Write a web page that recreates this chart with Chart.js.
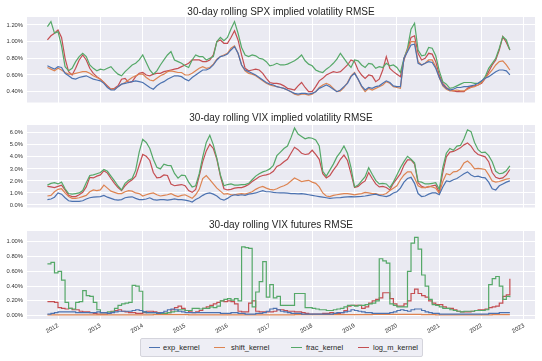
<!DOCTYPE html>
<html><head><meta charset="utf-8">
<script src="https://cdn.jsdelivr.net/npm/chart.js@4.4.1/dist/chart.umd.min.js"></script>
<style>
html,body{margin:0;padding:0;background:#fff;}
#wrap{position:relative;width:542px;height:361px;overflow:hidden;font-family:"Liberation Sans",Arial,sans-serif;}
.pc{position:absolute;left:0;width:542px;}
#legend{position:absolute;left:140px;top:338px;width:283px;height:19px;box-sizing:border-box;border:1px solid #d4d4dc;border-radius:2px;background:#eeeef5;}
.sw{position:absolute;top:8px;height:1px;width:11px;}
.lt{position:absolute;top:0;height:17px;line-height:17px;font-size:7.5px;color:#262626;white-space:nowrap;}
</style></head>
<body><div id="wrap">
<div class="pc" style="top:0;height:110px"><canvas id="c1"></canvas></div>
<div class="pc" style="top:110px;height:105px"><canvas id="c2"></canvas></div>
<div class="pc" style="top:215px;height:146px"><canvas id="c3"></canvas></div>
<div id="legend"></div>
</div>
<script>
// ---- data (monthly samples, Oct 2011 .. Sep 2022) ----
const startYear = 2011, startMonth = 10, nMonths = 132;
const years = [2012,2013,2014,2015,2016,2017,2018,2019,2020,2021,2022,2023];
const seriesNames = ['exp_kernel','shift_kernel','frac_kernel','log_m_kernel'];
const titles = ['30-day rolling SPX implied volatility RMSE','30-day rolling VIX implied volatility RMSE','30-day rolling VIX futures RMSE'];
const spxTicks = [0.4,0.6,0.8,1.0,1.2];
const vixTicks = [0,1,2,3,4,5,6];
const futTicks = [0,0.2,0.4,0.6,0.8,1.0];

// panel 1: SPX implied vol RMSE (%)
const spxExp = [0.71,0.69,0.67,0.70,0.69,0.62,0.59,0.56,0.55,0.57,
0.58,0.59,0.57,0.55,0.54,0.53,0.50,0.45,0.42,0.42,
0.46,0.49,0.50,0.51,0.52,0.53,0.52,0.51,0.48,0.45,
0.43,0.47,0.50,0.52,0.55,0.57,0.59,0.59,0.58,0.55,
0.53,0.57,0.60,0.63,0.66,0.66,0.68,0.72,0.78,0.82,
0.83,0.85,0.90,0.94,0.86,0.72,0.66,0.64,0.62,0.60,
0.57,0.54,0.51,0.49,0.48,0.46,0.45,0.44,0.42,0.40,
0.38,0.37,0.38,0.38,0.37,0.38,0.40,0.44,0.46,0.48,
0.46,0.43,0.40,0.42,0.46,0.50,0.58,0.62,0.55,0.47,
0.42,0.45,0.44,0.46,0.47,0.50,0.53,0.51,0.47,0.46,
0.46,0.80,0.88,0.96,0.97,0.74,0.72,0.74,0.76,0.75,
0.68,0.57,0.48,0.44,0.42,0.43,0.45,0.45,0.46,0.46,
0.47,0.48,0.50,0.53,0.56,0.58,0.61,0.64,0.66,0.66,
0.65,0.60];
const spxShift = [0.69,0.67,0.65,0.68,0.66,0.63,0.61,0.61,0.62,0.63,
0.64,0.64,0.62,0.59,0.57,0.55,0.51,0.46,0.43,0.43,
0.46,0.49,0.51,0.54,0.57,0.59,0.61,0.61,0.57,0.54,
0.53,0.56,0.59,0.61,0.64,0.65,0.64,0.63,0.63,0.60,
0.60,0.62,0.65,0.68,0.70,0.68,0.69,0.73,0.79,0.82,
0.84,0.86,0.92,0.95,0.86,0.72,0.65,0.62,0.61,0.59,
0.56,0.53,0.50,0.48,0.47,0.46,0.45,0.44,0.42,0.40,
0.37,0.36,0.37,0.37,0.36,0.37,0.40,0.45,0.48,0.50,
0.48,0.44,0.40,0.41,0.45,0.51,0.59,0.63,0.55,0.46,
0.40,0.44,0.42,0.44,0.46,0.48,0.52,0.50,0.46,0.45,
0.44,0.80,0.90,1.00,1.00,0.76,0.72,0.74,0.78,0.78,
0.70,0.57,0.47,0.43,0.41,0.41,0.42,0.41,0.41,0.43,
0.45,0.46,0.48,0.51,0.56,0.61,0.66,0.72,0.76,0.77,
0.72,0.66];
const spxFrac = [1.18,1.24,1.10,1.12,0.95,0.70,0.65,0.68,0.76,0.82,
0.86,0.82,0.72,0.68,0.65,0.67,0.66,0.68,0.70,0.65,
0.61,0.59,0.64,0.68,0.72,0.74,0.78,0.84,0.75,0.66,
0.61,0.65,0.72,0.78,0.84,0.88,0.78,0.76,0.74,0.71,
0.69,0.78,0.84,0.82,0.82,0.78,0.80,0.82,1.00,1.05,
1.01,1.05,1.15,1.24,1.10,0.93,0.84,0.82,0.84,0.83,
0.80,0.79,0.76,0.71,0.72,0.74,0.72,0.72,0.73,0.75,
0.77,0.80,0.84,0.77,0.73,0.71,0.66,0.64,0.63,0.67,
0.70,0.74,0.79,0.86,0.80,0.74,0.69,0.78,0.77,0.72,
0.69,0.74,0.73,0.68,0.70,0.69,0.74,0.71,0.72,0.69,
0.63,0.80,0.92,1.15,1.22,0.90,0.83,0.84,0.93,0.92,
0.83,0.65,0.52,0.49,0.44,0.45,0.47,0.49,0.51,0.51,
0.51,0.50,0.50,0.52,0.58,0.68,0.74,0.80,0.92,1.06,
1.02,0.90];
const spxLogm = [1.02,1.07,1.10,1.14,1.05,0.80,0.64,0.60,0.68,0.78,
0.84,0.78,0.68,0.62,0.58,0.55,0.51,0.47,0.43,0.44,
0.47,0.55,0.56,0.51,0.52,0.58,0.62,0.63,0.60,0.59,
0.61,0.62,0.62,0.64,0.65,0.66,0.67,0.68,0.70,0.72,
0.74,0.78,0.78,0.78,0.76,0.76,0.78,0.84,1.00,1.02,
0.98,0.98,1.05,1.13,1.02,0.84,0.68,0.65,0.66,0.67,
0.66,0.62,0.56,0.51,0.50,0.50,0.49,0.47,0.44,0.43,
0.42,0.47,0.51,0.45,0.40,0.40,0.46,0.53,0.56,0.60,
0.62,0.64,0.63,0.64,0.68,0.72,0.78,0.76,0.66,0.60,
0.56,0.60,0.59,0.52,0.55,0.66,0.82,0.68,0.64,0.61,
0.58,0.78,0.90,1.05,1.07,0.86,0.78,0.80,0.86,0.85,
0.76,0.60,0.50,0.45,0.42,0.41,0.40,0.40,0.40,0.44,
0.46,0.47,0.48,0.50,0.56,0.64,0.72,0.78,0.90,1.06,
0.99,0.90];

// panel 2: VIX implied vol RMSE (%)
const vixExp = [0.45,0.50,0.65,1.00,0.90,0.60,0.35,0.30,0.30,0.30,
0.35,0.50,0.60,0.65,0.68,0.70,0.80,0.65,0.55,0.45,
0.40,0.45,0.60,0.65,0.68,0.55,0.45,0.45,0.50,0.60,
0.45,0.40,0.45,0.45,0.40,0.45,0.50,0.45,0.45,0.40,
0.35,0.25,0.45,0.60,0.80,0.95,1.00,0.90,0.75,0.50,
0.40,0.55,0.75,0.85,0.80,0.85,0.80,0.90,0.95,1.00,
1.10,1.20,1.10,1.10,1.05,1.02,1.00,1.00,0.98,0.95,
0.95,0.92,0.95,0.90,0.85,0.80,0.75,0.70,0.65,0.60,
0.55,0.58,0.60,0.62,0.65,0.68,0.70,0.68,0.70,0.72,
0.75,0.80,0.85,0.90,0.80,0.75,0.70,0.80,1.00,1.10,
1.40,1.90,2.20,2.30,1.80,0.95,0.70,0.75,0.90,1.00,
1.00,0.85,1.50,2.00,1.95,2.10,2.20,2.40,2.60,2.75,
2.50,2.35,2.40,2.30,2.25,1.90,1.35,1.25,1.60,1.75,
1.90,2.00];
const vixShift = [0.75,0.80,1.10,1.30,1.35,1.00,0.70,0.55,0.55,0.60,
0.70,0.80,1.10,1.25,1.20,1.25,1.65,1.40,1.15,1.05,
0.95,0.95,1.10,1.20,1.15,1.00,0.95,0.75,0.85,0.95,
1.00,0.85,0.75,0.80,0.85,0.95,0.80,0.70,0.80,0.85,
0.70,0.55,0.85,1.30,2.20,2.45,2.10,1.75,1.40,1.15,
0.90,0.95,0.85,0.85,0.90,0.95,0.90,1.00,1.10,1.30,
1.45,1.55,1.40,1.30,1.25,1.35,1.50,1.60,1.75,2.00,
2.25,2.10,1.95,2.00,2.05,1.90,1.80,1.50,1.00,0.75,
0.70,0.80,0.85,0.90,0.95,0.95,0.90,0.85,0.90,0.95,
1.05,1.00,0.95,0.95,0.85,0.85,0.95,1.20,1.40,1.60,
2.10,2.50,2.75,2.75,2.25,1.60,1.45,1.45,1.55,1.50,
1.40,0.95,1.95,2.60,2.50,2.75,2.80,3.00,3.50,3.65,
3.40,3.00,3.05,3.00,2.95,2.50,2.00,1.90,1.95,2.05,
2.15,2.20];
const vixFrac = [1.65,1.80,1.85,1.75,1.90,1.35,0.95,0.90,0.95,1.00,
1.20,1.84,2.45,2.50,2.60,2.70,2.95,2.80,2.40,2.00,
1.58,1.25,1.80,2.05,2.20,2.90,4.40,5.45,5.20,4.70,
3.80,3.14,3.00,3.40,3.30,3.27,2.62,2.23,2.49,2.45,
1.90,1.50,1.60,2.60,4.00,5.20,5.80,5.00,3.90,2.50,
1.60,1.70,1.75,1.65,1.65,1.70,1.70,1.80,2.10,2.40,
2.60,2.75,2.85,3.00,3.30,4.10,4.40,4.70,4.90,5.60,
6.40,5.90,5.70,5.50,5.60,5.55,5.40,4.90,2.80,2.40,
2.90,3.40,4.00,4.40,4.90,4.30,3.10,1.50,1.65,2.00,
2.36,3.10,2.55,2.05,1.75,1.80,1.75,1.45,1.90,2.50,
3.10,3.60,4.05,3.80,3.50,1.95,1.90,1.75,1.75,1.80,
1.85,1.30,3.10,4.30,4.70,4.55,4.90,4.95,5.50,6.25,
6.10,5.20,4.60,4.35,4.40,4.10,3.60,2.80,2.60,2.65,
2.85,3.25];
const vixLogm = [1.55,1.50,1.45,1.55,1.65,1.25,0.80,0.70,0.70,0.85,
1.05,1.50,2.30,2.25,2.40,2.50,2.85,2.65,2.20,1.80,
1.45,1.20,1.60,1.90,2.10,2.40,3.30,4.20,4.05,3.70,
2.70,2.25,2.30,2.50,2.45,1.75,1.60,1.65,1.70,1.60,
1.20,1.05,1.30,2.40,3.60,4.50,5.05,4.70,3.80,2.40,
1.35,1.25,1.30,1.40,1.45,1.45,1.55,1.70,1.95,2.15,
2.35,2.45,2.50,2.60,2.80,3.20,3.35,3.60,3.80,4.30,
4.80,4.60,4.30,4.20,4.25,4.55,4.20,3.80,2.60,2.25,
2.45,2.90,3.30,3.80,4.15,3.70,2.60,1.45,1.55,1.80,
2.00,2.70,2.20,1.75,1.50,1.55,1.45,1.25,1.80,2.20,
2.60,3.30,3.75,3.75,3.40,1.85,1.55,1.45,1.50,1.60,
1.65,1.05,2.70,4.00,4.40,4.45,4.60,4.75,5.00,5.15,
4.90,4.45,4.20,4.10,4.00,3.60,2.70,2.30,2.20,2.25,
2.50,2.95];

// panel 3: VIX futures RMSE (%)
const futExp = [0.02,0.03,0.04,0.05,0.05,0.05,0.05,0.05,0.04,0.04,
0.04,0.04,0.04,0.04,0.05,0.04,0.04,0.03,0.04,0.05,
0.06,0.06,0.06,0.06,0.07,0.08,0.07,0.05,0.04,0.04,
0.04,0.03,0.04,0.06,0.08,0.09,0.08,0.06,0.05,0.04,
0.04,0.04,0.04,0.04,0.04,0.04,0.04,0.04,0.04,0.03,
0.03,0.03,0.04,0.04,0.03,0.03,0.02,0.02,0.02,0.03,
0.03,0.04,0.06,0.09,0.10,0.08,0.06,0.05,0.04,0.03,
0.03,0.03,0.02,0.02,0.02,0.02,0.02,0.02,0.02,0.02,
0.02,0.03,0.04,0.04,0.05,0.06,0.08,0.07,0.06,0.05,
0.04,0.04,0.03,0.03,0.03,0.03,0.03,0.04,0.05,0.07,
0.08,0.07,0.06,0.08,0.09,0.09,0.07,0.05,0.04,0.03,
0.03,0.02,0.02,0.02,0.02,0.02,0.02,0.02,0.02,0.02,
0.02,0.02,0.02,0.02,0.02,0.03,0.03,0.03,0.04,0.04,
0.04,0.04];
const futShift = [0.010,0.010,0.010,0.010,0.010,0.010,0.010,0.010,0.010,0.010,
0.010,0.010,0.010,0.010,0.010,0.010,0.010,0.010,0.010,0.010,
0.010,0.010,0.010,0.010,0.012,0.012,0.012,0.012,0.012,0.012,
0.015,0.015,0.015,0.015,0.015,0.015,0.015,0.015,0.015,0.015,
0.012,0.012,0.012,0.012,0.012,0.012,0.012,0.012,0.012,0.012,
0.012,0.012,0.010,0.010,0.010,0.010,0.010,0.010,0.010,0.010,
0.010,0.010,0.012,0.012,0.012,0.012,0.012,0.012,0.012,0.012,
0.015,0.015,0.015,0.015,0.015,0.015,0.015,0.015,0.015,0.015,
0.015,0.015,0.015,0.015,0.015,0.015,0.015,0.015,0.015,0.015,
0.015,0.015,0.018,0.018,0.018,0.018,0.018,0.018,0.018,0.018,
0.018,0.018,0.018,0.018,0.018,0.018,0.015,0.015,0.015,0.015,
0.012,0.012,0.012,0.012,0.012,0.012,0.012,0.012,0.012,0.012,
0.012,0.012,0.012,0.012,0.012,0.012,0.015,0.015,0.015,0.015,
0.015,0.015];
const futFrac = [0.70,0.72,0.58,0.60,0.48,0.18,0.10,0.09,0.18,0.19,
0.34,0.27,0.26,0.18,0.08,0.04,0.04,0.05,0.05,0.10,
0.14,0.16,0.17,0.18,0.41,0.40,0.33,0.05,0.04,0.04,
0.04,0.03,0.03,0.03,0.04,0.05,0.06,0.08,0.08,0.07,
0.07,0.10,0.10,0.09,0.10,0.10,0.12,0.11,0.13,0.20,
0.22,0.23,0.21,0.23,0.20,0.93,0.92,0.91,0.12,0.32,
0.46,0.73,0.25,0.42,0.24,0.26,0.14,0.14,0.14,0.14,
0.30,0.30,0.30,0.11,0.11,0.10,0.09,0.08,0.08,0.07,
0.07,0.08,0.09,0.10,0.12,0.14,0.14,0.13,0.14,0.14,
0.15,0.16,0.17,0.20,0.77,0.74,0.71,0.16,0.14,0.12,
0.12,0.12,0.60,0.98,1.06,0.90,0.55,0.40,0.22,0.15,
0.14,0.12,0.10,0.10,0.08,0.07,0.06,0.05,0.06,0.06,
0.06,0.07,0.07,0.07,0.08,0.42,0.50,0.53,0.40,0.22,
0.26,0.25];
const futLogm = [0.19,0.19,0.18,0.11,0.10,0.09,0.10,0.08,0.08,0.06,
0.05,0.05,0.04,0.03,0.02,0.02,0.02,0.03,0.06,0.07,
0.08,0.06,0.05,0.04,0.04,0.03,0.03,0.04,0.06,0.06,
0.05,0.04,0.03,0.03,0.04,0.08,0.11,0.13,0.10,0.07,
0.05,0.04,0.05,0.07,0.10,0.12,0.14,0.16,0.18,0.20,
0.19,0.20,0.19,0.16,0.06,0.05,0.05,0.17,0.20,0.06,
0.05,0.05,0.05,0.05,0.06,0.08,0.08,0.07,0.06,0.06,
0.05,0.05,0.04,0.03,0.02,0.02,0.02,0.02,0.03,0.03,
0.04,0.03,0.03,0.04,0.07,0.13,0.14,0.14,0.14,0.10,
0.12,0.17,0.20,0.22,0.24,0.31,0.31,0.23,0.16,0.13,
0.13,0.16,0.20,0.30,0.36,0.30,0.27,0.25,0.20,0.17,
0.15,0.15,0.12,0.10,0.10,0.08,0.06,0.05,0.05,0.05,
0.06,0.07,0.08,0.08,0.09,0.11,0.12,0.13,0.17,0.26,
0.28,0.50];

// ---- presentation ----
const colors = ['#4C72B0','#DD8452','#55A868','#C44E52'];
const FONT = '"Liberation Sans", Arial, sans-serif';
const xVals = Array.from({length:nMonths}, (_, i) => {
  const t = startYear*12 + (startMonth-1) + i;
  return Math.floor(t/12) + (t % 12)/12;
});

const bgPlugin = {
  id: 'bg',
  beforeDraw(chart) {
    const a = chart.chartArea, c = chart.ctx;
    c.save(); c.fillStyle = '#EAEAF2';
    c.fillRect(a.left, a.top, a.right - a.left, a.bottom - a.top);
    c.restore();
  },
  afterDraw(chart, args, opts) {
    const a = chart.chartArea, c = chart.ctx;
    c.save(); c.fillStyle = '#262626';
    c.font = '10px ' + FONT; c.textAlign = 'center'; c.textBaseline = 'alphabetic';
    c.fillText(opts.text, (a.left + a.right)/2, opts.y);
    c.restore();
  }
};

function makeChart(id, cfg) {
  const datasets = cfg.series.map((s, i) => ({
    label: seriesNames[i],
    data: s.map((v, k) => ({x: xVals[k], y: v})),
    borderColor: colors[i], backgroundColor: colors[i],
    borderWidth: 1.2, pointRadius: 0, tension: 0, fill: false,
    stepped: cfg.stepped || false
  }));
  return new Chart(document.getElementById(id), {
    type: 'line',
    data: {datasets},
    plugins: [bgPlugin],
    options: {
      responsive: true, maintainAspectRatio: false, animation: false,
      layout: {padding: {top: cfg.padTop, left: 0, right: 7, bottom: 0}},
      plugins: {legend: {display: false}, tooltip: {enabled: false},
        bg: {text: cfg.title, y: cfg.titleY}},
      scales: {
        x: {
          type: 'linear', min: 2011.268, max: 2023.26,
          afterBuildTicks: s => { s.ticks = years.map(v => ({value: v})); },
          afterFit: s => { s.height = cfg.xH; },
          grid: {color: '#ffffff', lineWidth: 1, drawTicks: false},
          border: {display: false},
          ticks: {display: cfg.showX, autoSkip: false, minRotation: 30, maxRotation: 30,
            padding: 3, color: '#333', font: {family: FONT, size: 6},
            callback: v => String(v)}
        },
        y: {
          min: cfg.yMin, max: cfg.yMax,
          afterBuildTicks: s => { s.ticks = cfg.yTicks.map(v => ({value: v})); },
          afterFit: s => { s.width = 27; },
          grid: {color: '#ffffff', lineWidth: 1, drawTicks: false},
          border: {display: false},
          ticks: {padding: 4, color: '#333', font: {family: FONT, size: 5.8},
            callback: v => v.toFixed(cfg.dec) + '%'}
        }
      }
    }
  });
}

makeChart('c1', {series: [spxExp, spxShift, spxFrac, spxLogm], title: titles[0], titleY: 15,
  padTop: 17, xH: 5, showX: false, yMin: 0.27, yMax: 1.295, yTicks: spxTicks, dec: 2});
makeChart('c2', {series: [vixExp, vixShift, vixFrac, vixLogm], title: titles[1], titleY: 11,
  padTop: 15, xH: 2, showX: false, yMin: -0.21, yMax: 6.65, yTicks: vixTicks, dec: 1});
makeChart('c3', {series: [futExp, futShift, futFrac, futLogm], title: titles[2], titleY: 13,
  padTop: 16, xH: 42, showX: true, yMin: -0.045, yMax: 1.145, yTicks: futTicks, dec: 2, stepped: true});

// legend
const lg = document.getElementById('legend');
const swX = [8, 73, 150, 217], txX = [22, 90, 165, 232];
seriesNames.forEach((n, i) => {
  const sw = document.createElement('div'); sw.className = 'sw';
  sw.style.left = swX[i] + 'px'; sw.style.background = colors[i]; lg.appendChild(sw);
  const t = document.createElement('div'); t.className = 'lt';
  t.style.left = txX[i] + 'px'; t.textContent = n; lg.appendChild(t);
});
</script>
</body></html>
